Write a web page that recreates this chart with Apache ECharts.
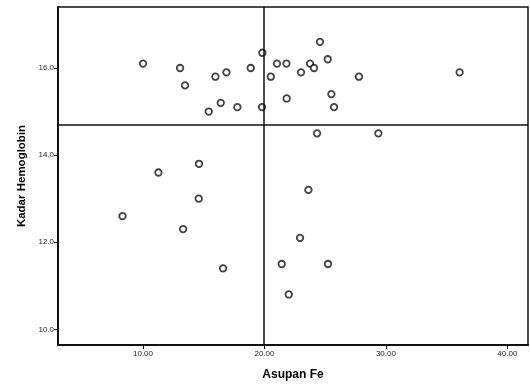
<!DOCTYPE html>
<html>
<head>
<meta charset="utf-8">
<script src="https://cdn.jsdelivr.net/npm/echarts@6/dist/echarts.min.js"></script>
<style>
  html, body { margin: 0; padding: 0; background: #fff; }
  #chart { width: 530px; height: 386px; }
</style>
</head>
<body>
<div id="chart"></div>
<script>
// Asupan Fe (x) vs Kadar Hemoglobin (y)
var asupanFe = [10.0, 13.05, 13.46, 15.96, 16.87, 15.41, 16.40, 17.77, 18.87, 19.83, 19.80, 11.27, 14.61,
    20.52, 21.03, 21.81, 21.83, 23.01, 23.75, 24.08, 24.57, 25.21, 25.51, 25.73, 27.78, 36.07, 24.33, 29.38,
    23.62, 8.31, 14.59, 13.30, 16.59, 22.93, 21.42, 25.23, 22.00]
var kadarHb = [16.1, 16.0, 15.6, 15.8, 15.9, 15.0, 15.2, 15.1, 16.0, 16.35, 15.1, 13.6, 13.8,
    15.8, 16.1, 16.1, 15.3, 15.9, 16.1, 16.0, 16.6, 16.2, 15.4, 15.1, 15.8, 15.9, 14.5, 14.5,
    13.2, 12.6, 13.0, 12.3, 11.4, 12.1, 11.5, 11.5, 10.8]
var xTicks = [10, 20, 30, 40]
var yTicks = [10, 12, 14, 16]
// garis rata-rata
var meanFe = [19.95]
var meanHb = [14.7]

var points = asupanFe.map(function (v, i) { return [v, kadarHb[i]] })

var chart = echarts.init(document.getElementById('chart'))
chart.setOption({
    animation: false,
    grid: {
        left: 58, right: 2, top: 7, bottom: 38,
        show: true, borderColor: '#111', borderWidth: 1.5
    },
    xAxis: {
        type: 'value',
        min: 3, max: 41.7,
        name: 'Asupan Fe',
        nameLocation: 'middle',
        nameGap: 24,
        nameTextStyle: { fontFamily: 'Liberation Sans', fontWeight: 'bold', fontSize: 12, color: '#000' },
        splitLine: { show: false },
        axisLine: { lineStyle: { color: '#111', width: 2 } },
        axisTick: { customValues: xTicks, length: 4, lineStyle: { color: '#111' } },
        axisLabel: {
            customValues: xTicks,
            fontFamily: 'Liberation Sans', fontSize: 8, color: '#222', margin: 5,
            formatter: function (v) { return v.toFixed(2) }
        }
    },
    yAxis: {
        type: 'value',
        min: 9.64, max: 17.4,
        name: 'Kadar Hemoglobin',
        nameLocation: 'middle',
        nameGap: 30,
        nameTextStyle: { fontFamily: 'Liberation Sans', fontWeight: 'bold', fontSize: 11.5, color: '#000' },
        splitLine: { show: false },
        axisLine: { lineStyle: { color: '#111', width: 2 } },
        axisTick: { customValues: yTicks, length: 4, lineStyle: { color: '#111' } },
        axisLabel: {
            customValues: yTicks,
            fontFamily: 'Liberation Sans', fontSize: 8, color: '#222', margin: 4,
            formatter: function (v) { return v.toFixed(1) }
        }
    },
    series: [{
        type: 'scatter',
        data: points,
        symbol: 'circle',
        symbolSize: 6.5,
        itemStyle: { color: '#fff', borderColor: '#111', borderWidth: 1.8 },
        markLine: {
            silent: true,
            symbol: 'none',
            label: { show: false },
            lineStyle: { color: '#111', width: 1.5, type: 'solid' },
            data: [{ xAxis: meanFe[0] }, { yAxis: meanHb[0] }]
        }
    }]
})
</script>
</body>
</html>
